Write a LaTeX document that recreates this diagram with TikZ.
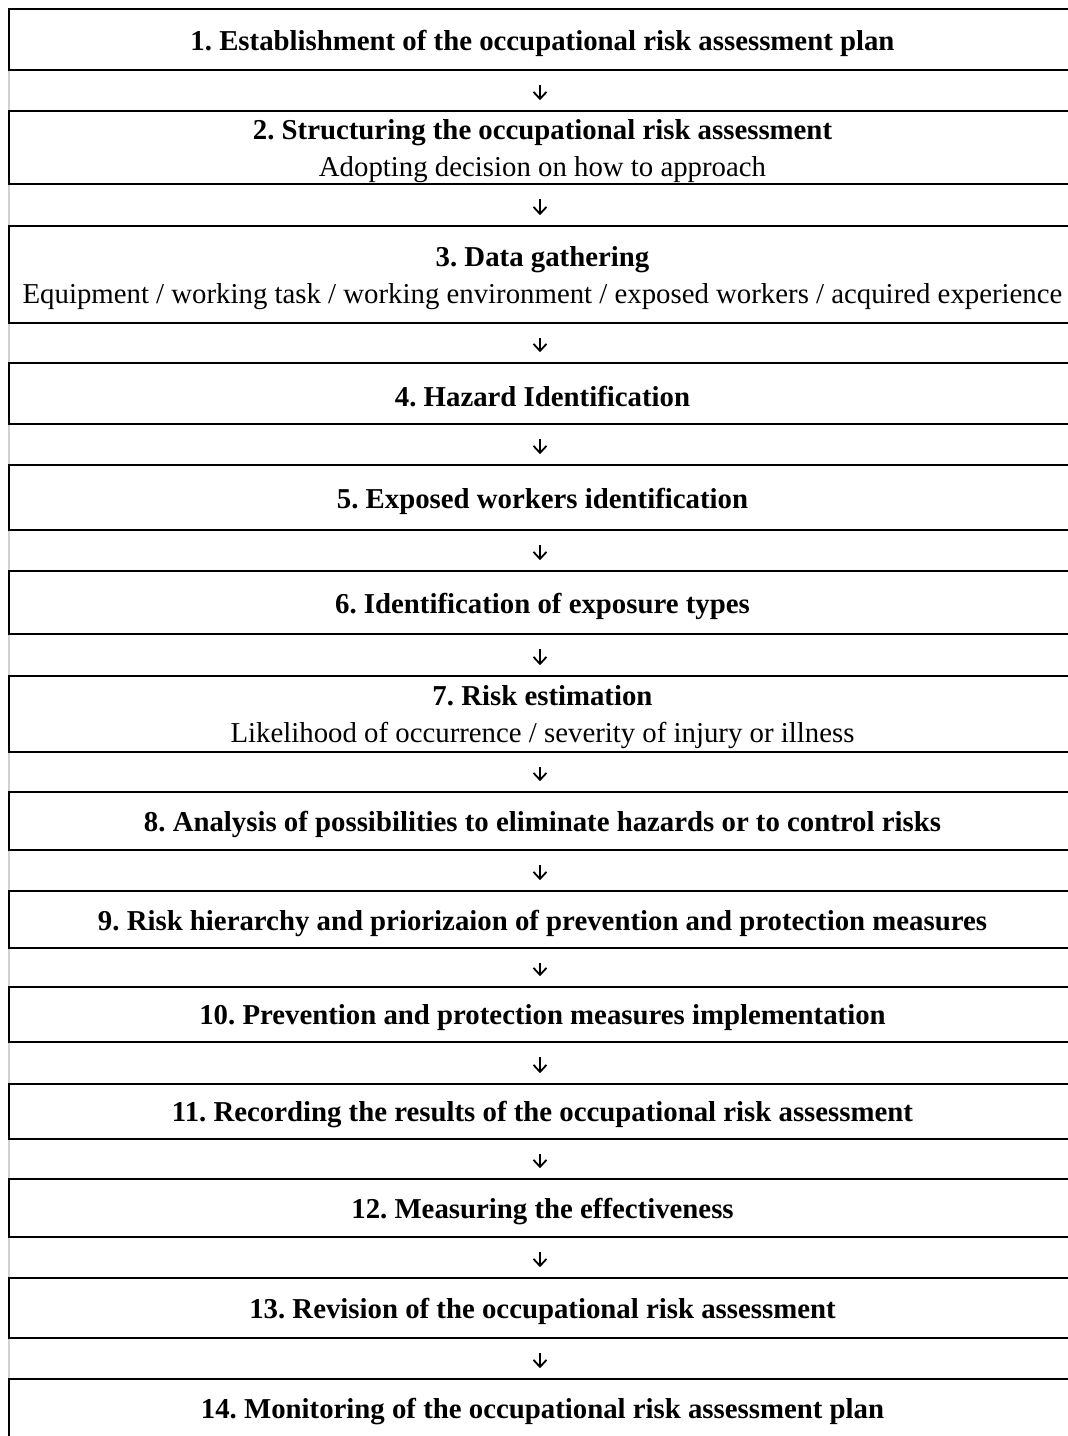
\documentclass[tikz,border=0pt]{standalone}
\usepackage{fontspec}
\setmainfont{Liberation Serif}
\usetikzlibrary{arrows.meta}
\frenchspacing
\begin{document}
\begin{tikzpicture}[x=1pt, y=1pt,
  stepbox/.style = {draw, rectangle, line width=1.6pt, inner sep=0pt,
     minimum width=1062pt},
  steptext/.style = {inner sep=0pt, align=center,
     font=\fontsize{28.8}{37}\selectfont\bfseries},
  flowarrow/.style = {-{Straight Barb[length=7pt, width=13pt]}, line width=1.8pt,
     shorten <=14pt, shorten >=10pt}]
\useasboundingbox [fill=white] (0,0) rectangle (1068,-1436);
% spreadsheet gridline on the left
\draw [black!18, line width=1.6pt] (9,-9) -- (9,-1436);
% the fourteen steps
\foreach \n/\yc/\h/\txt in {
  1/39.5/61/{1. Establishment of the occupational risk assessment plan},
  2/147.5/73/{2. Structuring the occupational risk assessment\\\mdseries Adopting decision on how to approach},
  3/274.5/97/{3. Data gathering\\\mdseries Equipment / working task / working environment / exposed workers / acquired experience},
  4/393.5/61/{4. Hazard Identification},
  5/497.5/65/{5. Exposed workers identification},
  6/602.5/63/{6. Identification of exposure types},
  7/714/76/{7. Risk estimation\\\mdseries Likelihood of occurrence / severity of injury or illness},
  8/821/58/{8. Analysis of possibilities to eliminate hazards or to control risks},
  9/919.5/57/{9. Risk hierarchy and priorizaion of prevention and protection measures},
  10/1014.5/55/{10. Prevention and protection measures implementation},
  11/1111.5/55/{11. Recording the results of the occupational risk assessment},
  12/1208/58/{12. Measuring the effectiveness},
  13/1308/60/{13. Revision of the occupational risk assessment},
  14/1408.5/59/{14. Monitoring of the occupational risk assessment plan}}
{
  \node [stepbox, minimum height=\h pt] (s\n) at (540,-\yc) {};
  \node [steptext] (t\n) at ([xshift=2.5pt, yshift=-3.5pt]s\n.center) {\txt};
}
% arrows between consecutive steps
\foreach \a in {1,...,13} {
  \pgfmathtruncatemacro{\b}{\a+1}
  \draw [flowarrow] (s\a.south) -- (s\b.north);
}
\end{tikzpicture}
\end{document}
